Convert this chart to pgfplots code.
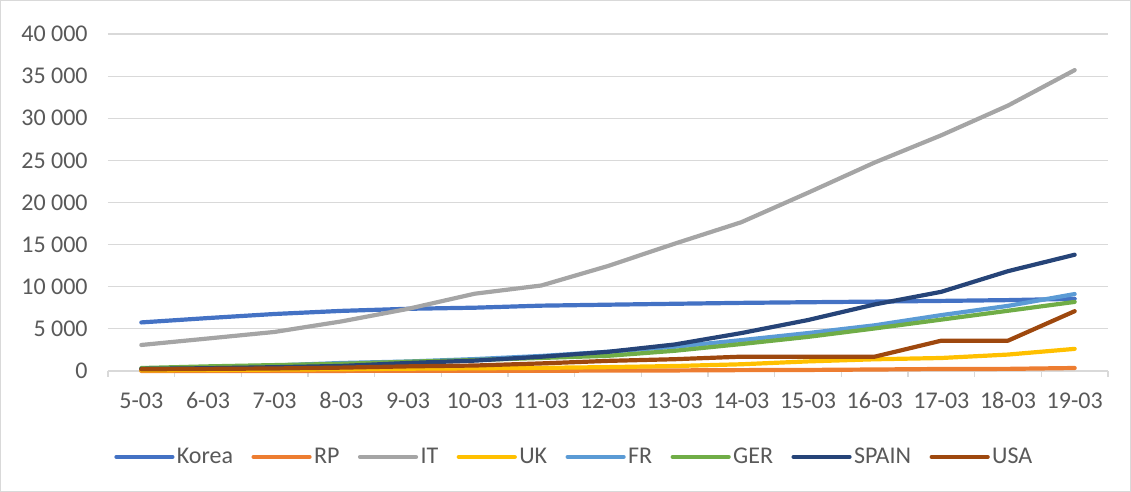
\documentclass[border=0pt]{standalone}
\usepackage{fontspec}
\setmainfont{Carlito}
\usepackage{pgfplots}
\pgfplotsset{compat=1.18}

\definecolor{txtgray}{HTML}{595959}
\definecolor{gridgray}{HTML}{D9D9D9}
\definecolor{cKorea}{HTML}{4472C4}
\definecolor{cRP}{HTML}{ED7D31}
\definecolor{cIT}{HTML}{A5A5A5}
\definecolor{cUK}{HTML}{FFC000}
\definecolor{cFR}{HTML}{5B9BD5}
\definecolor{cGER}{HTML}{70AD47}
\definecolor{cSPAIN}{HTML}{264478}
\definecolor{cUSA}{HTML}{9E480E}

\newcommand{\lblfont}{\fontsize{12}{14}\selectfont}

\begin{document}
\begin{tikzpicture}
% outer frame of the chart area
\draw[gridgray, line width=0.5pt] (0.25pt,0.25pt) rectangle (565.25pt,245.75pt);
\begin{axis}[
  at={(54pt,60.5pt)}, anchor=south west,
  width=500pt, height=168.5pt, scale only axis,
  xmin=-0.5, xmax=14.5,
  ymin=0, ymax=40000,
  axis lines*=left,
  x axis line style={draw=gridgray, line width=0.6pt},
  y axis line style={draw=none},
  xtick={0,...,14},
  xticklabels={5-03,6-03,7-03,8-03,9-03,10-03,11-03,12-03,13-03,14-03,15-03,16-03,17-03,18-03,19-03},
  minor xtick={-0.5,0.5,...,14.5},
  ytick={0,5000,...,40000},
  major tick length=0pt,
  minor tick length=3pt,
  tick align=outside,
  minor x tick style={draw=gridgray, line width=0.6pt},
  ymajorgrids,
  major grid style={draw=gridgray, line width=0.6pt},
  scaled y ticks=false,
  /pgf/number format/.cd, 1000 sep={\ }, assume math mode=true,
  /pgfplots/.cd,
  tick label style={font=\lblfont, text=txtgray, inner sep=0pt},
  xticklabel style={anchor=base, yshift=-19pt},
  yticklabel style={anchor=east, xshift=-10pt},
  clip=false,
  every axis plot/.append style={line width=2.1pt, line cap=round, line join=round},
  legend columns=8,
  legend style={at={(0.4665,-0.255)}, anchor=center, draw=none, fill=none,
    font=\lblfont, text=txtgray,
    /tikz/every even column/.append style={column sep=8pt},
    nodes={inner sep=1.2pt}},
  legend image code/.code={\draw[#1] (0pt,0pt) -- (28pt,0pt);},
]
\addplot[cKorea] coordinates {(0,5766) (1,6284) (2,6767) (3,7134) (4,7382) (5,7513) (6,7755) (7,7869) (8,7979) (9,8086) (10,8162) (11,8236) (12,8320) (13,8413) (14,8565)};
\addlegendentry{Korea}
\addplot[cRP] coordinates {(0,1) (1,5) (2,5) (3,11) (4,17) (5,22) (6,31) (7,49) (8,68) (9,104) (10,125) (11,177) (12,238) (13,251) (14,355)};
\addlegendentry{RP}
\addplot[cIT] coordinates {(0,3089) (1,3858) (2,4636) (3,5883) (4,7375) (5,9172) (6,10149) (7,12462) (8,15113) (9,17660) (10,21157) (11,24747) (12,27980) (13,31506) (14,35713)};
\addlegendentry{IT}
\addplot[cUK] coordinates {(0,85) (1,116) (2,163) (3,206) (4,273) (5,321) (6,373) (7,459) (8,590) (9,798) (10,1140) (11,1391) (12,1543) (13,1950) (14,2626)};
\addlegendentry{UK}
\addplot[cFR] coordinates {(0,285) (1,423) (2,653) (3,949) (4,1126) (5,1412) (6,1784) (7,2281) (8,2876) (9,3661) (10,4499) (11,5423) (12,6633) (13,7730) (14,9134)};
\addlegendentry{FR}
\addplot[cGER] coordinates {(0,350) (1,550) (2,700) (3,850) (4,1100) (5,1300) (6,1550) (7,1800) (8,2400) (9,3200) (10,4050) (11,5050) (12,6100) (13,7150) (14,8200)};
\addlegendentry{GER}
\addplot[cSPAIN] coordinates {(0,250) (1,330) (2,450) (3,600) (4,950) (5,1231) (6,1695) (7,2277) (8,3146) (9,4500) (10,6050) (11,7900) (12,9400) (13,11850) (14,13800)};
\addlegendentry{SPAIN}
\addplot[cUSA] coordinates {(0,200) (1,250) (2,300) (3,400) (4,550) (5,650) (6,900) (7,1200) (8,1400) (9,1700) (10,1700) (11,1700) (12,3600) (13,3600) (14,7100)};
\addlegendentry{USA}
\end{axis}
\end{tikzpicture}
\end{document}
